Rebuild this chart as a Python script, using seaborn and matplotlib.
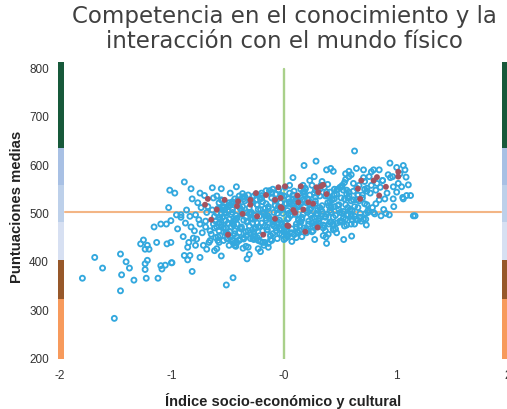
"""
Competencia en el conocimiento y la interaccion con el mundo fisico
Nube de puntos leida a ojo de la imagen original
"""

import pandas as pd
import seaborn as sns
import matplotlib.pyplot as plt
from matplotlib.patches import Rectangle

sns.set_style("white")
plt.rcParams['font.family'] = ['Liberation Sans', 'DejaVu Sans']

# ============================================================================
# DATOS
# ============================================================================

# Centros (anillos azules)
x_centros = [
    -1.515, -1.80, -1.62, -1.69, -1.46, -1.41, -1.38, -1.45, -1.46, -1.34, -1.23, -1.125,
    -1.24, -1.24, -1.22, -1.28, -1.255, -1.22, -1.24, -1.205, -1.137, -1.045, -1.01, -1.10,
    -1.06, -1.005, -1.09, -1.16, -1.10, -1.05, -1.01, -1.03, -1.02, -0.975, -0.89, -0.83,
    -0.75, -0.82, -0.64, -0.56, -0.425, -0.96, -0.92, -0.82, -0.515, -0.455, -1.00, -0.89,
    -0.84, -0.75, -0.86, -0.56, -0.33, -0.31, -0.21, -0.23, -0.14, -0.366, -0.62, -0.69,
    0.63, 0.286, 0.179, 0.946, 1.006, 1.065, 0.38, 0.417, 0.44, 0.58, 0.647, 0.71,
    0.80, 0.85, 0.58, 1.08, 1.035, 1.09, 1.11, 1.05, 0.976, 1.006, 0.975, 1.065,
    1.13, 1.095, 1.06, 1.155, 1.17, 0.94, 0.866, 0.81, 0.73, 0.735, 0.66, 0.61,
    0.63, 0.56, 0.60, 0.44, 0.50, 0.44, 0.395, 0.375, 0.38, 0.274, 0.533, 0.604,
    0.26, 0.125, 0.015, 0.08,
    -0.95, -0.90, -0.88, -0.85, -0.80, -0.78, -0.76, -0.72, -0.92, -0.87, -0.83, -0.79,
    -0.74, -0.70, -0.86, -0.81, -0.77, -0.73, -0.69, -0.84, -0.79, -0.75, -0.71, -0.66,
    -0.68, -0.65, -0.62, -0.60, -0.58, -0.55, -0.52, -0.50, -0.70, -0.67, -0.63, -0.59,
    -0.56, -0.53, -0.49, -0.47, -0.66, -0.61, -0.57, -0.54, -0.51, -0.48, -0.45, -0.43,
    -0.64, -0.60, -0.56, -0.52, -0.49, -0.46, -0.42, -0.40, -0.58, -0.55, -0.50, -0.46,
    -0.44, -0.41, -0.38, -0.36, -0.48, -0.44, -0.40, -0.37, -0.34, -0.31, -0.28, -0.26,
    -0.46, -0.42, -0.38, -0.35, -0.32, -0.29, -0.27, -0.24, -0.40, -0.36, -0.33, -0.30,
    -0.27, -0.25, -0.22, -0.19, -0.37, -0.34, -0.30, -0.28, -0.24, -0.21, -0.18, -0.16,
    -0.32, -0.29, -0.26, -0.23, -0.20, -0.17, -0.14, -0.12, -0.28, -0.25, -0.21, -0.18,
    -0.15, -0.13, -0.10, -0.08, -0.24, -0.20, -0.17, -0.14, -0.11, -0.09, -0.06, -0.04,
    -0.19, -0.16, -0.12, -0.10, -0.07, -0.05, -0.02, 0.00, -0.15, -0.11, -0.08, -0.06,
    -0.03, 0.01, 0.03, 0.05, -0.10, -0.07, -0.04, -0.01, 0.02, 0.04, 0.07, 0.09,
    -0.05, -0.02, 0.01, 0.03, 0.06, 0.08, 0.11, 0.13, 0.00, 0.03, 0.05, 0.08,
    0.10, 0.12, 0.15, 0.17, 0.04, 0.07, 0.09, 0.12, 0.14, 0.16, 0.19, 0.21,
    0.09, 0.11, 0.14, 0.16, 0.18, 0.21, 0.23, 0.26, 0.13, 0.15, 0.18, 0.20,
    0.23, 0.25, 0.28, 0.30, 0.17, 0.20, 0.22, 0.25, 0.27, 0.30, 0.32, 0.35,
    0.22, 0.24, 0.27, 0.29, 0.32, 0.34, 0.37, 0.39, 0.28, 0.31, 0.33, 0.36,
    0.38, 0.41, 0.43, 0.46, 0.34, 0.37, 0.40, 0.42, 0.45, 0.47, 0.50, 0.52,
    0.41, 0.44, 0.47, 0.49, 0.52, 0.55, 0.57, 0.60, 0.48, 0.51, 0.54, 0.56,
    0.59, 0.62, 0.64, 0.67, 0.53, 0.57, 0.60, 0.63, 0.66, 0.69, 0.72, 0.75,
    0.62, 0.65, 0.68, 0.71, 0.74, 0.77, 0.80, 0.83, 0.70, 0.73, 0.76, 0.79,
    0.82, 0.85, 0.88, 0.91, 0.78, 0.82, 0.86, 0.89, 0.92, 0.95, 0.98, 1.02,
    0.90, 0.55, 0.30, 0.72, 0.88, 0.20, 0.66, 0.93, 0.42, 0.78, 0.97, 0.74,
]
y_centros = [
    281, 364, 385, 407, 414, 398, 385, 371, 338, 360, 364, 364,
    382, 394, 401, 435, 443, 432, 424, 424, 438, 435, 438, 390,
    391, 396, 383, 470, 476, 476, 483, 510, 546, 540, 563, 549,
    540, 528, 551, 549, 553, 495, 495, 378, 350, 365, 396, 411,
    411, 407, 402, 410, 404, 413, 419, 425, 428, 426, 421, 424,
    627, 606, 597, 602, 593, 597, 588, 591, 585, 585, 591, 588,
    588, 588, 574, 588, 580, 573, 557, 553, 553, 542, 528, 528,
    535, 535, 531, 493, 493, 495, 493, 497, 498, 474, 484, 484,
    476, 474, 476, 476, 482, 464, 455, 449, 436, 444, 444, 451,
    462, 458, 447, 572,
    466, 450, 478, 438, 462, 445, 485, 432, 490, 505, 470, 495,
    510, 470, 428, 447, 520, 458, 500, 492, 432, 476, 535, 442,
    512, 455, 492, 470, 438, 525, 483, 446, 482, 438, 530, 508,
    470, 500, 432, 518, 462, 448, 486, 512, 456, 540, 474, 430,
    505, 425, 497, 468, 520, 442, 488, 534, 478, 510, 455, 500,
    432, 526, 470, 445, 515, 484, 458, 539, 430, 498, 522, 468,
    477, 450, 505, 533, 428, 488, 460, 516, 442, 528, 480, 500,
    455, 538, 470, 438, 512, 490, 524, 446, 478, 506, 432, 545,
    462, 520, 494, 442, 535, 472, 508, 452, 486, 526, 440, 500,
    464, 545, 480, 515, 448, 530, 494, 436, 540, 472, 506, 456,
    522, 488, 444, 548, 468, 512, 534, 460, 494, 442, 526, 478,
    504, 552, 450, 518, 484, 538, 466, 498, 462, 528, 440, 508,
    546, 476, 518, 452, 494, 536, 470, 512, 444, 486, 556, 502,
    524, 460, 480, 542, 498, 516, 454, 532, 472, 490, 548, 462,
    510, 528, 480, 450, 538, 500, 566, 470, 486, 520, 544, 458,
    506, 478, 532, 496, 556, 466, 518, 488, 540, 470, 510, 452,
    526, 494, 574, 476, 548, 502, 462, 534, 518, 486, 556, 472,
    542, 504, 528, 466, 564, 490, 514, 480, 536, 458, 552, 498,
    522, 474, 546, 506, 482, 568, 530, 496, 514, 552, 472, 538,
    504, 560, 486, 524, 546, 494, 578, 512, 536, 482, 564, 500,
    526, 550, 490, 572, 516, 540, 500, 560, 530, 486, 574, 510,
    546, 526, 566, 498, 584, 518, 552, 506, 540, 572, 512, 560,
    528, 580, 504, 548, 566, 520, 536, 578, 510, 556, 574, 544,
]

# Nucleo denso de la nube
x_nucleo = [
    -0.57, -0.55, -0.54, -0.53, -0.51, -0.50, -0.49, -0.48, -0.47, -0.46, -0.46, -0.45,
    -0.56, -0.54, -0.52, -0.52, -0.50, -0.49, -0.48, -0.47, -0.46, -0.45, -0.44, -0.44,
    -0.44, -0.43, -0.42, -0.41, -0.40, -0.39, -0.38, -0.37, -0.36, -0.34, -0.33, -0.31,
    -0.43, -0.42, -0.40, -0.39, -0.38, -0.36, -0.35, -0.34, -0.33, -0.32, -0.31, -0.30,
    -0.30, -0.29, -0.28, -0.27, -0.26, -0.24, -0.23, -0.22, -0.20, -0.19, -0.17, -0.16,
    -0.29, -0.27, -0.26, -0.25, -0.23, -0.22, -0.21, -0.20, -0.18, -0.17, -0.16, -0.15,
    -0.15, -0.14, -0.13, -0.11, -0.10, -0.09, -0.08, -0.06, -0.05, -0.03, -0.02, -0.01,
    -0.14, -0.12, -0.11, -0.10, -0.08, -0.07, -0.06, -0.05, -0.04, -0.03, -0.02, 0.00,
    0.01, 0.02, 0.03, 0.05, 0.06, 0.07, 0.08, 0.10, 0.11, 0.12, 0.13, 0.15,
    0.00, 0.02, 0.03, 0.04, 0.05, 0.07, 0.09, 0.10, 0.11, 0.13, 0.14, 0.15,
    0.16, 0.17, 0.18, 0.19, 0.21, 0.22, 0.23, 0.25, 0.26, 0.27, 0.28, 0.30,
    0.15, 0.17, 0.18, 0.20, 0.21, 0.22, 0.24, 0.25, 0.27, 0.28, 0.29, 0.30,
    0.31, 0.32, 0.33, 0.35, 0.36, 0.37, 0.39, 0.40, 0.41, 0.42, 0.44, 0.45,
    0.30, 0.32, 0.34, 0.35, 0.37, 0.38, 0.39, 0.41, 0.42, 0.43, 0.44, 0.45,
    0.46, 0.47, 0.49, 0.50, 0.52, 0.53, 0.54, 0.55, 0.56, 0.57, 0.58, 0.60,
    0.45, 0.47, 0.48, 0.50, 0.51, 0.53, 0.54, 0.55, 0.57, 0.58, 0.59, 0.60,
    0.61, 0.62, 0.63, 0.65, 0.66, 0.67, 0.68, 0.70, 0.71, 0.72, 0.74, 0.75,
    -0.62, -0.60, -0.59, -0.58, -0.61, -0.60, -0.58, -0.57, -0.63, -0.59, -0.58, -0.56,
]
y_nucleo = [
    452, 490, 468, 505, 446, 478, 515, 460, 496, 442, 522, 482,
    474, 442, 498, 458, 512, 486, 448, 470, 506, 436, 528, 462,
    456, 494, 476, 520, 444, 508, 466, 532, 484, 452, 500, 472,
    486, 438, 512, 468, 496, 448, 524, 460, 482, 536, 510, 446,
    458, 500, 478, 534, 450, 516, 470, 492, 540, 462, 508, 484,
    522, 444, 488, 468, 506, 452, 528, 478, 498, 438, 518, 464,
    470, 512, 488, 542, 456, 500, 524, 446, 480, 536, 464, 508,
    492, 452, 530, 476, 514, 462, 498, 546, 484, 520, 454, 472,
    478, 518, 456, 540, 494, 466, 528, 502, 448, 512, 484, 548,
    534, 470, 504, 488, 522, 458, 544, 496, 476, 516, 462, 530,
    486, 526, 468, 550, 504, 476, 536, 460, 514, 490, 546, 472,
    518, 496, 542, 464, 528, 482, 508, 556, 474, 524, 498, 540,
    482, 534, 506, 468, 552, 492, 520, 476, 542, 500, 466, 528,
    546, 488, 514, 474, 534, 496, 558, 480, 510, 526, 490, 548,
    494, 538, 516, 480, 556, 502, 528, 486, 546, 510, 534, 492,
    512, 478, 548, 500, 530, 488, 562, 516, 496, 542, 506, 524,
    504, 544, 492, 526, 510, 556, 498, 536, 486, 518, 550, 504,
    468, 498, 450, 520, 482, 534, 462, 508, 476, 442, 490, 526,
]

# Centros destacados (puntos granate)
x_destacados = [
    -0.68, -0.705, -0.53, -0.60, -0.65, -0.50, -0.185, -0.37, -0.24, -0.08, -0.42, -0.41,
    -0.30, -0.30, -0.25, -0.16, -0.08, -0.03, -0.03, -0.05, 0.01, 0.03, 0.12, 0.15,
    0.128, 0.217, 0.26, -0.02, 0.083, 0.098, 0.172, 0.04, 0.19, 0.30, 0.29, 0.33,
    0.35, 0.306, 0.38, 0.68, 0.66, 0.69, 0.80, 0.83, 0.85, 0.91, 1.02, 1.02,
]
y_destacados = [
    528, 516, 526, 506, 485, 454, 454, 497, 492, 487, 513, 523,
    526, 516, 540, 536, 526, 530, 511, 552, 554, 473, 535, 554,
    521, 521, 518, 509, 505, 499, 506, 472, 460, 469, 552, 554,
    557, 542, 538, 528, 549, 566, 566, 573, 535, 553, 584, 574,
]

# Niveles de la escala lateral (inferior, superior, color)
nivel_inferior = [197, 321, 402, 480, 557, 634]
nivel_superior = [321, 402, 480, 557, 634, 811]
nivel_color = ['#f79a5c', '#97582a', '#d7e0f2', '#bdd0ea', '#a8c0e4', '#17593a']

ticks_x = [-2, -1, 0, 1, 2]
etiquetas_x = ['-2', '-1', '-0', '1', '2']
ticks_y = [200, 300, 400, 500, 600, 700, 800]

centros = pd.DataFrame({'indice': x_centros + x_nucleo, 'puntuacion': y_centros + y_nucleo})
destacados = pd.DataFrame({'indice': x_destacados, 'puntuacion': y_destacados})

# ============================================================================
# GRAFICO
# ============================================================================

fig = plt.figure(figsize=(5.07, 4.10), dpi=100)
# Ejes colocados en pixeles: x -2 -> 60, x 2 -> 508 ; y 197 -> 360, y 811 -> 63
ax = fig.add_axes([60 / 507, 50 / 410, 448 / 507, 297 / 410])
ax.set_xlim(-2, 2)
ax.set_ylim(197, 811)
ax.patch.set_alpha(0)
sns.despine(ax=ax, left=True, bottom=True)

# Barras laterales
for xbar in [-2.02, 1.95]:
    for y0, y1, col in zip(nivel_inferior, nivel_superior, nivel_color):
        ax.add_patch(Rectangle((xbar, y0), 0.055, y1 - y0, facecolor=col, edgecolor='none',
                               clip_on=False, zorder=1))

ax.axhline(500, xmin=0.012, xmax=0.985, color='#f3b585', linewidth=1.5, zorder=1)
ax.plot([0, 0], [197, 797], color='#a9d08a', linewidth=1.7, zorder=1)

sns.scatterplot(data=centros, x='indice', y='puntuacion', ax=ax, s=13, facecolor='none',
                edgecolor='#33a8de', linewidth=1.35, legend=False, zorder=3, clip_on=False)
sns.scatterplot(data=destacados, x='indice', y='puntuacion', ax=ax, s=18, color='#a4525f',
                edgecolor='none', legend=False, zorder=4)

ax.set_xticks(ticks_x)
ax.set_xticklabels(etiquetas_x, fontsize=8.5, color='#333333')
ax.set_yticks(ticks_y)
ax.set_yticklabels(ticks_y, fontsize=8.5, color='#333333')
ax.tick_params(axis='x', length=0, pad=7)
ax.tick_params(axis='y', length=0, pad=8)

ax.set_xlabel('Índice socio-económico y cultural', fontsize=10.5, fontweight='bold', color='#222222')
ax.set_ylabel('Puntuaciones medias', fontsize=10.7, fontweight='bold', color='#222222')
ax.xaxis.set_label_coords((283 - 60) / 448, -(393 - 360) / 297, transform=ax.transAxes)
ax.yaxis.set_label_coords(-(60 - 24) / 448, (360 - 207) / 297, transform=ax.transAxes)

fig.text(284 / 507, 1 - 16 / 410, 'Competencia en el conocimiento y la', ha='center', va='center',
         fontsize=16.5, color='#404040', family=['DejaVu Sans'])
fig.text(284 / 507, 1 - 42 / 410, 'interacción con el mundo físico', ha='center', va='center',
         fontsize=16.5, color='#404040', family=['DejaVu Sans'])

fig.savefig('out.png', dpi=100)
